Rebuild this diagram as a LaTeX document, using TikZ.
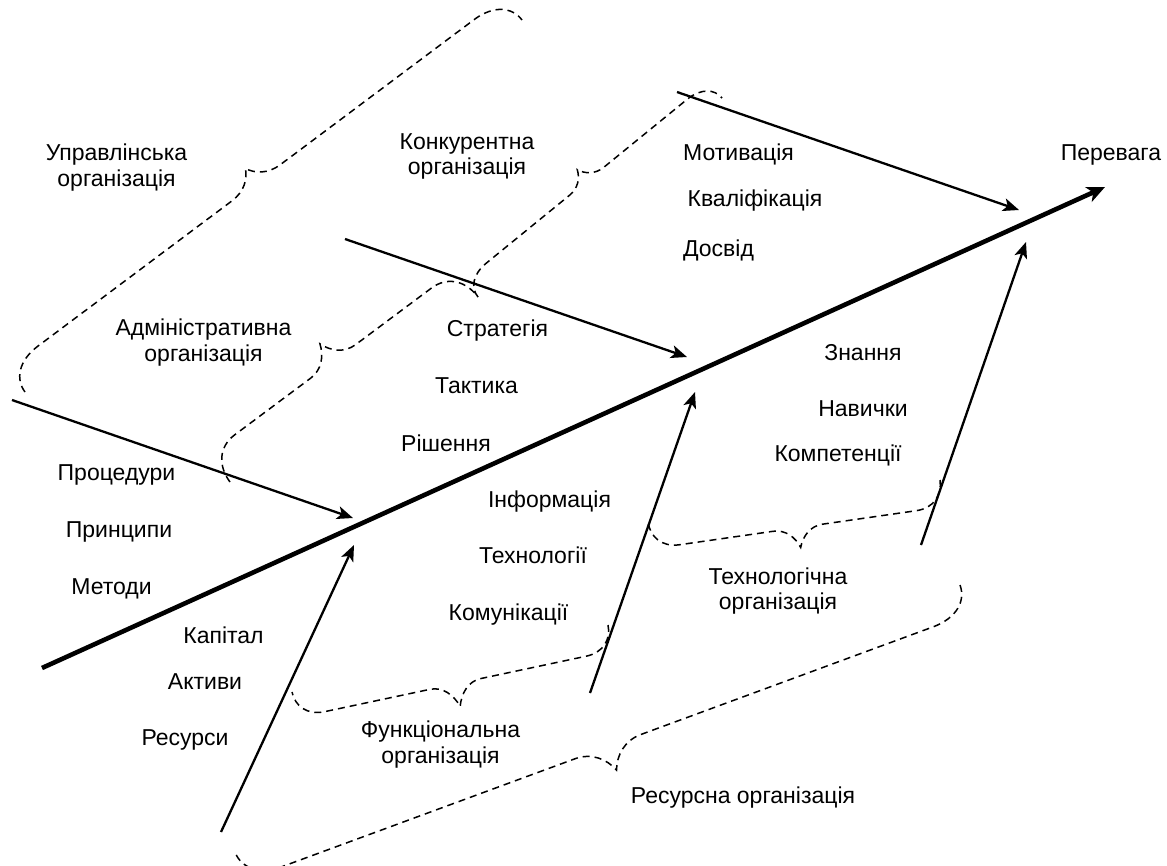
\documentclass[tikz,border=0pt]{standalone}
\usepackage{fontspec}
\setmainfont{Liberation Sans}
\usetikzlibrary{arrows.meta,calc}
% curly dashed brace: #1 start, #2 end, #3 straight offset, #4 tip offset, #5 end curl length, #6 tip half width
\newcommand{\curlybrace}[6]{%
  \draw[brc]
    (#1) .. controls ($(#1)!{0.55*#3}!90:(#2)$) and ($(#1)!{0.35*#5}!(#2)!#3!90:(#2)$) ..
    ($(#1)!#5!(#2)!#3!90:(#2)$) --
    ($(#1)!0.5!(#2)!#6!(#1)!#3!-90:(#1)$) .. controls
    ($(#1)!0.5!(#2)!{0.5*#6}!(#1)!#3!-90:(#1)$) and ($(#1)!0.5!(#2)!{0.15*#6}!(#1)!{#3+0.45*(#4-#3)}!-90:(#1)$) ..
    ($(#1)!0.5!(#2)!#4!90:(#2)$) .. controls
    ($(#1)!0.5!(#2)!{0.15*#6}!(#2)!{#3+0.45*(#4-#3)}!90:(#2)$) and ($(#1)!0.5!(#2)!{0.5*#6}!(#2)!#3!90:(#2)$) ..
    ($(#1)!0.5!(#2)!#6!(#2)!#3!90:(#2)$) --
    ($(#2)!#5!(#1)!#3!-90:(#1)$) .. controls ($(#2)!{0.35*#5}!(#1)!#3!-90:(#1)$) and ($(#2)!{0.55*#3}!-90:(#1)$) .. (#2);
}
\begin{document}
\begin{tikzpicture}[x=1pt,y=-1pt,
  lbl/.style={font=\fontsize{23}{25.5}\selectfont, inner sep=0pt, align=center},
  bone/.style={line width=2.3pt, -{Stealth[length=16pt,width=13pt,inset=4pt]}},
  spine/.style={line width=4.6pt, -{Stealth[length=18pt,width=16pt,inset=5pt]}},
  brc/.style={line width=1.5pt, dash pattern=on 7pt off 5pt}]
\useasboundingbox (0,0) rectangle (1167,865);

% brace end points
\coordinate (u1) at (25,392);  \coordinate (u2) at (522,20);
\coordinate (d1) at (230,482); \coordinate (d2) at (478,297);
\coordinate (k1) at (478,297); \coordinate (k2) at (722,98);
\coordinate (f1) at (608,625); \coordinate (f2) at (292,692);
\coordinate (t1) at (940,480); \coordinate (t2) at (648,522);
\coordinate (r1) at (960,585); \coordinate (r2) at (235,852);

\curlybrace{u1}{u2}{29pt}{47pt}{38pt}{30pt}
\curlybrace{d1}{d2}{35pt}{57pt}{32pt}{28pt}
\curlybrace{k1}{k2}{21pt}{36pt}{28pt}{22pt}
\curlybrace{f1}{f2}{26pt}{49pt}{28pt}{26pt}
\curlybrace{t1}{t2}{27pt}{47pt}{28pt}{25pt}
\curlybrace{r1}{r2}{30pt}{55pt}{40pt}{35pt}

% spine and bones
\coordinate (s0) at (42,668);  \coordinate (s1) at (1105,187);
\coordinate (a1s) at (12,400);  \coordinate (a1e) at (353,518);
\coordinate (a2s) at (345,239); \coordinate (a2e) at (687,357);
\coordinate (a3s) at (677,92);  \coordinate (a3e) at (1019,210);
\coordinate (a4s) at (221,832); \coordinate (a4e) at (354,545);
\coordinate (a5s) at (590,693); \coordinate (a5e) at (695,392);
\coordinate (a6s) at (921,545); \coordinate (a6e) at (1026,242);

\draw[spine] (s0) -- (s1);
\draw[bone] (a1s) -- (a1e);
\draw[bone] (a2s) -- (a2e);
\draw[bone] (a3s) -- (a3e);
\draw[bone] (a4s) -- (a4e);
\draw[bone] (a5s) -- (a5e);
\draw[bone] (a6s) -- (a6e);

% labels
\node[lbl] (upr) at (116.5,167.5) {Управлінська\\організація};
\node[lbl] (kon) at (467,156.5) {Конкурентна\\організація};
\node[lbl] (adm) at (203.5,342.5) {Адміністративна\\організація};
\node[lbl] (teh) at (778,591) {Технологічна\\організація};
\node[lbl] (fun) at (440.5,744.5) {Функціональна\\організація};
\node[lbl,anchor=base] (res) at (743,803) {Ресурсна організація};

\node[lbl,anchor=base] (mot) at (738.5,160) {Мотивація};
\node[lbl,anchor=base] (kva) at (755,206) {Кваліфікація};
\node[lbl,anchor=base] (dos) at (718.5,256) {Досвід};
\node[lbl,anchor=base] (per) at (1111,160) {Перевага};
\node[lbl,anchor=base] (str) at (497.5,336) {Стратегія};
\node[lbl,anchor=base] (tak) at (476.5,393) {Тактика};
\node[lbl,anchor=base] (rish) at (446,451) {Рішення};
\node[lbl,anchor=base] (zn) at (863,360) {Знання};
\node[lbl,anchor=base] (nav) at (863,416) {Навички};
\node[lbl,anchor=base] (kom) at (838,461) {Компетенції};
\node[lbl,anchor=base] (pro) at (116.5,480) {Процедури};
\node[lbl,anchor=base] (pri) at (119,537) {Принципи};
\node[lbl,anchor=base] (met) at (111.5,594) {Методи};
\node[lbl,anchor=base] (kap) at (223.5,643) {Капітал};
\node[lbl,anchor=base] (akt) at (205,689) {Активи};
\node[lbl,anchor=base] (rsr) at (185,745) {Ресурси};
\node[lbl,anchor=base] (inf) at (549.5,507) {Інформація};
\node[lbl,anchor=base] (tex) at (533,563) {Технології};
\node[lbl,anchor=base] (kmn) at (508.5,620) {Комунікації};
\end{tikzpicture}
\end{document}
